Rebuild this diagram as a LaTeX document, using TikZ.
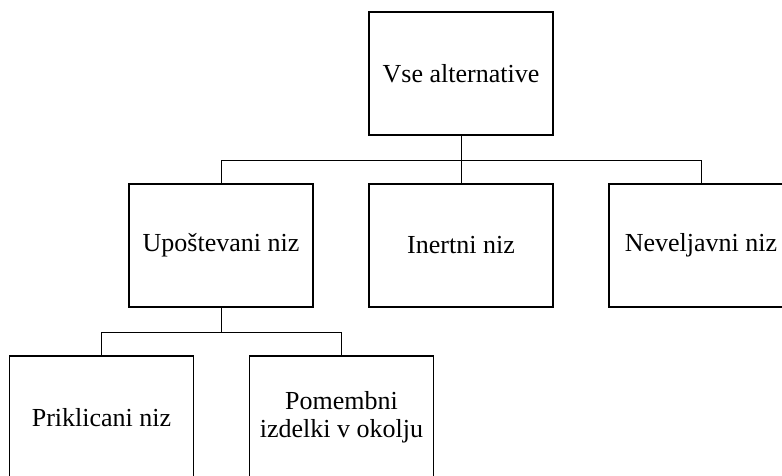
\documentclass[tikz,border=0pt]{standalone}
\usepackage{fontspec}
\setmainfont{Liberation Serif}
\usepackage{tikz}
\tikzset{niz/.style={draw, line width=1.5pt, minimum width=184pt, minimum height=123pt, inner sep=0pt, align=center, font=\fontsize{26}{28}\selectfont},
veja/.style={line width=0.8pt}}

\begin{document}
\begin{tikzpicture}[x=1pt,y=-1pt]
\useasboundingbox (0,0) rectangle (782,475);
\clip (0,0) rectangle (782,475);

\node [niz] (vse) at (461,73.5) {Vse alternative};

\node [niz] (upos) at (221,245.5) {Upoštevani niz};
\node [niz] (inert) at (461,245.5) {Inertni niz};
\node [niz] (nev) at (701,245.5) {Neveljavni niz};

\node [niz] (prik) at (101.5,417.5) {Priklicani niz};
\node [niz] (pomem) at (341.5,417.5) {Pomembni\\izdelki v okolju};

\draw [veja] (vse.south) -- (inert.north);
\draw [veja] (vse.south) -- ++(0,24.5) -| (upos.north);
\draw [veja] (vse.south) -- ++(0,24.5) -| (nev.north);

\draw [veja] (upos.south) -- ++(0,24.5) -| (prik.north);
\draw [veja] (upos.south) -- ++(0,24.5) -| (pomem.north);

\end{tikzpicture}
\end{document}
